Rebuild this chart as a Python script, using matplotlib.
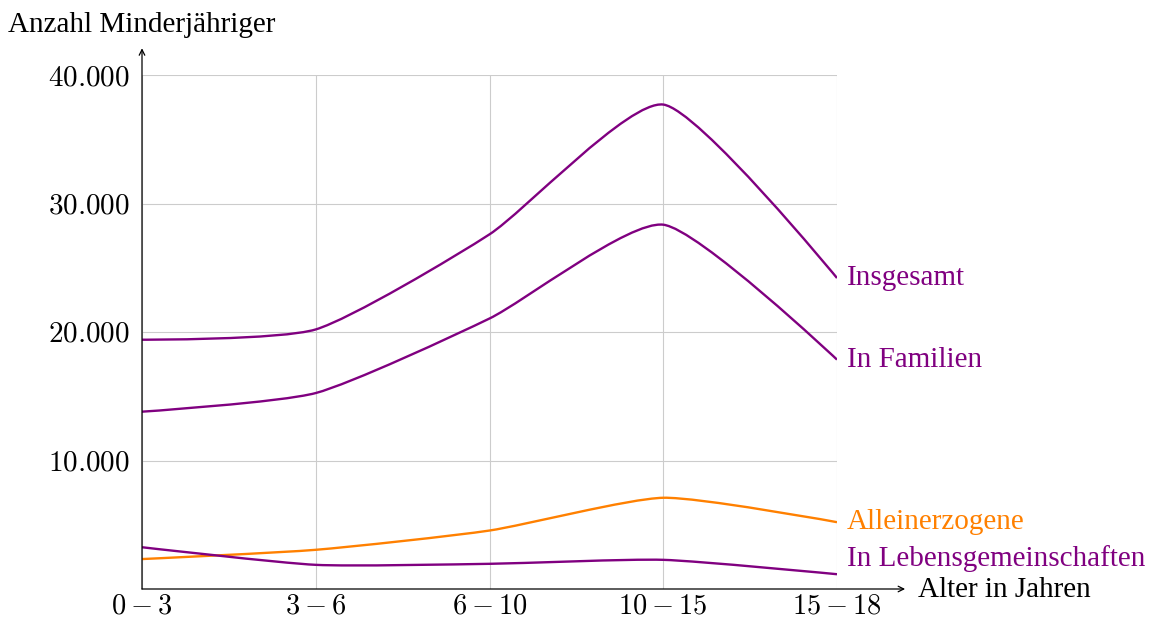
import numpy as np
import matplotlib.pyplot as plt
from matplotlib.path import Path
from matplotlib.patches import PathPatch

plt.rcParams['mathtext.fontset'] = 'cm'
plt.rcParams['font.family'] = ['Liberation Serif', 'DejaVu Serif']

# Daten
altersgruppen = [r'$0-3$', r'$3-6$', r'$6-10$', r'$10-15$', r'$15-18$']
insgesamt = [19400, 20200, 27600, 37700, 24200]
familien = [13800, 15250, 21050, 28350, 17850]
alleinerzogen = [2330, 3050, 4550, 7100, 5200]
lebensgem = [3250, 1880, 1960, 2270, 1150]
y_ticks = [10000, 20000, 30000, 40000]
y_ticklabels = [r'$10.000$', r'$20.000$', r'$30.000$', r'$40.000$']

purple = '#800080'
orange = '#ff8000'


def smooth_path(xs, ys, f=0.1):
    # wie pgfplots "smooth": kubische Bezier-Segmente
    p = np.column_stack([xs, ys]).astype(float)
    n = len(p)
    verts = [p[0]]
    codes = [Path.MOVETO]
    for i in range(n - 1):
        prev = p[i - 1] if i > 0 else p[i]
        nxt = p[i + 2] if i + 2 < n else p[i + 1]
        c1 = p[i] + f * (p[i + 1] - prev) if i > 0 else p[i]
        c2 = p[i + 1] - f * (nxt - p[i]) if i + 2 < n else p[i + 1]
        verts += [c1, c2, p[i + 1]]
        codes += [Path.CURVE4] * 3
    return Path(verts, codes)


fig = plt.figure(figsize=(11.49, 6.21), dpi=100)
ax = fig.add_axes([142 / 1149, 32 / 621, 695 / 1149, 514 / 621])
x = np.arange(len(altersgruppen))
ax.set_xlim(0, 4)
ax.set_ylim(0, 40000)

for s in ax.spines.values():
    s.set_visible(False)
ax.grid(True, color='#cccccc', linewidth=0.8)
ax.set_axisbelow(True)
ax.set_xticks(x)
ax.set_xticklabels(altersgruppen, fontsize=20.5)
ax.set_yticks(y_ticks)
ax.set_yticklabels(y_ticklabels, fontsize=21)
ax.tick_params(length=0)
ax.tick_params(axis='x', pad=4)
ax.tick_params(axis='y', pad=9)

series = [(insgesamt, purple, 'Insgesamt', 0),
          (familien, purple, 'In Familien', 0),
          (alleinerzogen, orange, 'Alleinerzogene', 0),
          (lebensgem, purple, 'In Lebensgemeinschaften', 11)]
for vals, col, name, dy in series:
    ax.add_patch(PathPatch(smooth_path(x, vals), facecolor='none',
                           edgecolor=col, linewidth=1.7, zorder=3))
    ax.annotate(name, xy=(x[-1], vals[-1]), xytext=(7, dy),
                textcoords='offset points', color=col, fontsize=21,
                va='center', ha='left', annotation_clip=False)

# Achsenpfeile
ax.annotate('', xy=(1.098, 0), xytext=(0, 0), xycoords='axes fraction',
            arrowprops=dict(arrowstyle='->', color='black', lw=0.9,
                            shrinkA=0, shrinkB=0))
ax.annotate('', xy=(0, 1.052), xytext=(0, 0), xycoords='axes fraction',
            arrowprops=dict(arrowstyle='->', color='black', lw=0.9,
                            shrinkA=0, shrinkB=0))

fig.text(8 / 1149, 1 - 25 / 621, 'Anzahl Minderjähriger', fontsize=21,
         ha='left', va='center')
fig.text(918 / 1149, 1 - 590 / 621, 'Alter in Jahren', fontsize=21,
         ha='left', va='center')

fig.savefig('out.png', dpi=100)
